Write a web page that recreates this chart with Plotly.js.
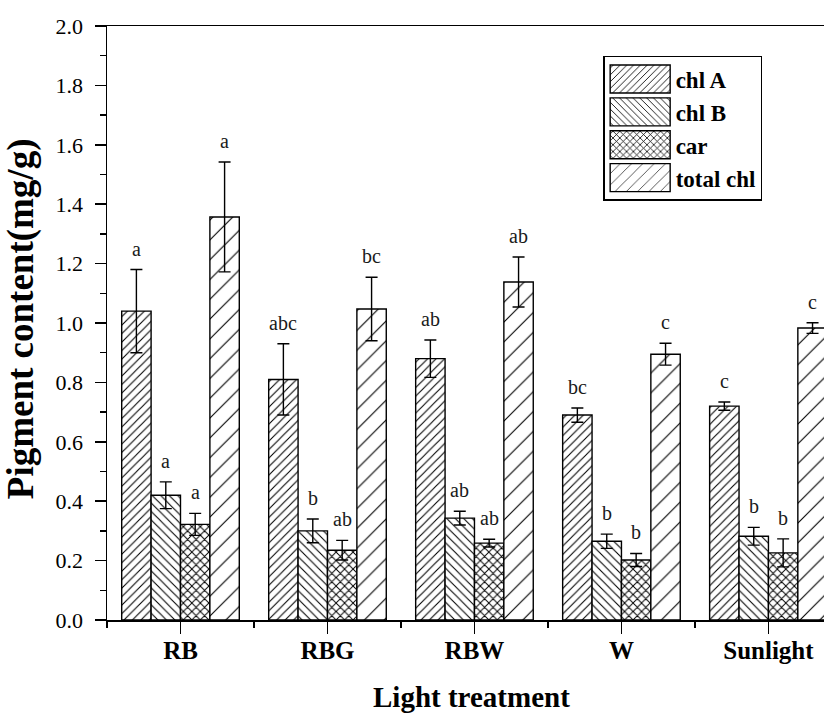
<!DOCTYPE html>
<html>
<head>
<meta charset="utf-8">
<script src="https://cdn.plot.ly/plotly-3.0.1.min.js"></script>
<style>
  html, body { margin: 0; padding: 0; background: #ffffff; overflow: hidden; }
  #chart { width: 824px; height: 713px; }
</style>
</head>
<body>
<div id="chart"></div>
<script>
// Light treatments along the x axis
const categories = ['RB', 'RBG', 'RBW', 'W', 'Sunlight'];

// Pigment contents (mg/g) with standard errors
const chlA = [1.04, 0.81, 0.88, 0.69, 0.72];
const chlAErr = [0.14, 0.12, 0.063, 0.024, 0.014];
const chlB = [0.42, 0.30, 0.343, 0.265, 0.282];
const chlBErr = [0.045, 0.04, 0.023, 0.024, 0.03];
const car = [0.322, 0.235, 0.259, 0.202, 0.226];
const carErr = [0.037, 0.033, 0.013, 0.022, 0.047];
const totalChl = [1.357, 1.047, 1.138, 0.895, 0.983];
const totalChlErr = [0.185, 0.107, 0.084, 0.037, 0.018];

// Significance letters above each bar
const chlALetters = ['a', 'abc', 'ab', 'bc', 'c'];
const chlBLetters = ['a', 'b', 'ab', 'b', 'b'];
const carLetters = ['a', 'ab', 'ab', 'b', 'b'];
const totalChlLetters = ['a', 'bc', 'ab', 'c', 'c'];

const serif = 'Liberation Serif, Times New Roman, serif';
const xIdx = categories.map((_, i) => i);

const seriesDefs = [
  { name: 'chl A', y: chlA, err: chlAErr, letters: chlALetters, shape: '/', size: 6, solidity: 0.18 },
  { name: 'chl B', y: chlB, err: chlBErr, letters: chlBLetters, shape: '\\', size: 6, solidity: 0.18 },
  { name: 'car', y: car, err: carErr, letters: carLetters, shape: 'x', size: 6, solidity: 0.3 },
  { name: 'total chl', y: totalChl, err: totalChlErr, letters: totalChlLetters, shape: '/', size: 14, solidity: 0.08 }
];

const bargap = 0.2;
const barW = (1 - bargap) / seriesDefs.length;

const traces = seriesDefs.map((s, k) => ({
  type: 'bar',
  name: s.name,
  legendgroup: s.name,
  x: xIdx,
  y: s.y,
  marker: {
    color: '#ffffff',
    line: { color: '#000000', width: 1.4 },
    pattern: { shape: s.shape, size: s.size, solidity: s.solidity, fgcolor: '#000000', bgcolor: '#ffffff', fillmode: 'replace' }
  },
  error_y: { type: 'data', array: s.err, visible: true, color: '#000000', thickness: 1.4, width: 6 },
  hoverinfo: 'x+y'
}));

// Letters sit just above the top of each error bar
const annotations = [];
seriesDefs.forEach((s, k) => {
  const offset = -0.5 + bargap / 2 + barW * (k + 0.5);
  s.y.forEach((v, i) => {
    annotations.push({
      x: i + offset, y: v + s.err[i], xref: 'x', yref: 'y',
      text: s.letters[i], showarrow: false,
      yanchor: 'bottom', xanchor: 'center', yshift: 8,
      font: { family: serif, size: 20, color: '#1a1a1a' }
    });
  });
});

annotations.push({
  xref: 'paper', yref: 'paper', x: 0.5077, y: -0.129,
  text: '<b>Light treatment</b>', showarrow: false,
  xanchor: 'center', yanchor: 'middle',
  font: { family: serif, size: 29, color: '#000000' }
});
annotations.push({
  xref: 'paper', yref: 'paper', x: -0.12, y: 0.508,
  text: '<b>Pigment content(mg/g)</b>', showarrow: false, textangle: -90,
  xanchor: 'center', yanchor: 'middle',
  font: { family: serif, size: 37, color: '#000000' }
});

const layout = {
  width: 824,
  height: 713,
  margin: { l: 107, r: 0, t: 26, b: 93, pad: 0 },
  paper_bgcolor: '#ffffff',
  plot_bgcolor: '#ffffff',
  barmode: 'group',
  bargap: bargap,
  bargroupgap: 0,
  showlegend: true,
  legend: {
    x: 0.692, y: 0.9495, xanchor: 'left', yanchor: 'top',
    bgcolor: '#ffffff', bordercolor: '#000000', borderwidth: 1.5,
    font: { family: serif, size: 23, color: '#000000', weight: 'bold' },
    itemwidth: 61, tracegroupgap: 6, traceorder: 'normal'
  },
  xaxis: {
    type: 'linear',
    range: [-0.5, 4.378],
    tickmode: 'array', tickvals: xIdx, ticktext: categories.map(c => '<b>' + c + '</b>'),
    ticks: 'outside', ticklen: 12, tickwidth: 1.5, tickcolor: '#000000',
    minor: { tickmode: 'array', tickvals: [-0.5, 0.5, 1.5, 2.5, 3.5], ticks: 'outside', ticklen: 6, tickwidth: 1.5, tickcolor: '#000000', showgrid: false },
    showline: true, linecolor: '#000000', linewidth: 1.5, mirror: true,
    showgrid: false, zeroline: false,
    ticklabelstandoff: -5,
    tickfont: { family: serif, size: 25, color: '#000000' }
  },
  yaxis: {
    range: [0, 2.0],
    dtick: 0.2, tick0: 0, tickformat: '.1f',
    ticks: 'outside', ticklen: 11, tickwidth: 1.5, tickcolor: '#000000',
    minor: { dtick: 0.1, ticks: 'outside', ticklen: 6, tickwidth: 1.5, tickcolor: '#000000', showgrid: false },
    showline: true, linecolor: '#000000', linewidth: 1.5, mirror: false,
    showgrid: false, zeroline: false,
    ticklabelstandoff: 7,
    tickfont: { family: serif, size: 22, color: '#000000' }
  },
  annotations: annotations
};

Plotly.newPlot('chart', traces, layout, { displayModeBar: false, staticPlot: true }).then(gd => {
  // Widen the legend swatches into long patterned boxes
  gd.querySelectorAll('.legend .legendpoints path').forEach(p => {
    p.setAttribute('d', 'M30,14H-30V-14H30Z');
  });
});
</script>
</body>
</html>
